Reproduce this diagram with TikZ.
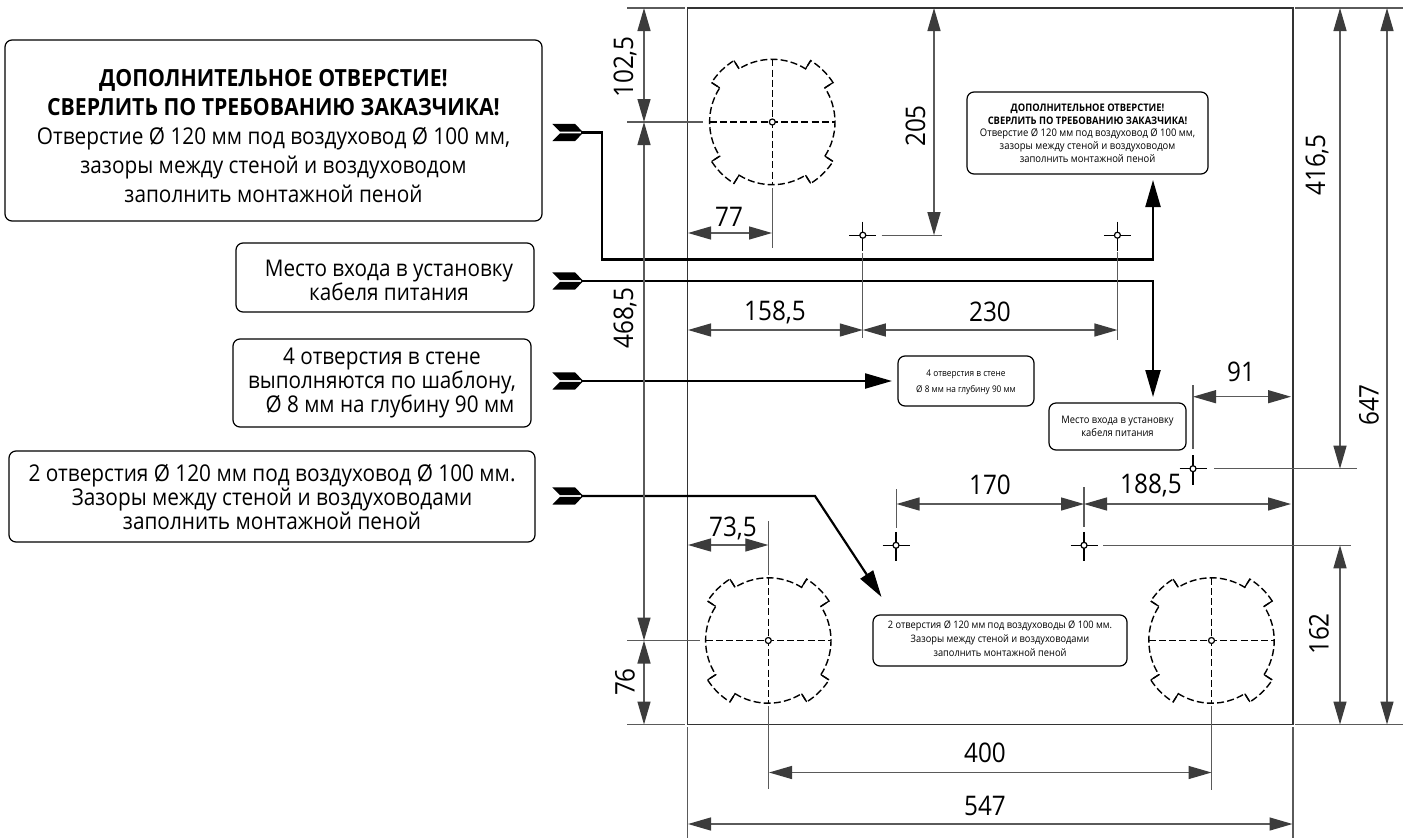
\documentclass[tikz,border=0pt]{standalone}
\usepackage{fontspec}
\setmainfont{Open Sans}[FakeStretch=0.9]
\usetikzlibrary{arrows.meta}
\definecolor{extgray}{HTML}{5A5A5A}
\definecolor{tipgray}{HTML}{3C3C3C}
\definecolor{platecol}{HTML}{333333}
\tikzset{
  x=1pt,y=-1pt,
  extline/.style={draw=extgray,line width=1.2pt},
  dimline/.style={draw=extgray,line width=1.3pt,{Triangle[length=23pt,width=13pt,color=tipgray]}-{Triangle[length=23pt,width=13pt,color=tipgray]}},
  dimtext/.style={font=\fontsize{27}{30}\selectfont,text=black,inner sep=0pt},
  callbox/.style={draw=black,line width=1.2pt,rounded corners=7pt,fill=white,align=center,inner sep=0pt},
  bigtext/.style={font=\fontsize{23.1}{29}\selectfont},
  smalltext/.style={font=\fontsize{10.5}{12.7}\selectfont},
  leader/.style={draw=black,line width=2.2pt,line join=miter,-{Triangle[length=27pt,width=15pt,color=black]}},
  feather/.style={fill=black,draw=none},
  holeline/.style={draw=black,line width=1.4pt,dash pattern=on 7pt off 3.2pt},
  holetick/.style={draw=black,line width=1.2pt},
  centermark/.style={draw=black,line width=1.2pt,fill=white},
}
\newcommand{\holeat}[2]{%
  \begin{scope}[shift={(#1,#2)}]
    \def\ra{62.7pt}\def\rb{72.4pt}
    \draw[holeline] (-33:\ra) arc[start angle=-33,end angle=33,radius=\ra] -- (33:\rb)
      arc[start angle=33,end angle=58,radius=\rb] -- (58:\ra)
      arc[start angle=58,end angle=122,radius=\ra] -- (122:\rb)
      arc[start angle=122,end angle=147,radius=\rb] -- (147:\ra)
      arc[start angle=147,end angle=213,radius=\ra] -- (213:\rb)
      arc[start angle=213,end angle=238,radius=\rb] -- (238:\ra)
      arc[start angle=238,end angle=302,radius=\ra] -- (302:\rb)
      arc[start angle=302,end angle=327,radius=\rb] -- cycle;
    \foreach \ang in {33,58,122,147,213,238,302,327}{\draw[holetick] (\ang:\ra) -- (\ang:\rb);}
    \draw[holeline] (-62.7,0) -- (62.7,0);
    \draw[holeline] (0,-62.7) -- (0,62.7);
    \draw[centermark] (0,0) circle[radius=3pt];
  \end{scope}}
\newcommand{\crossmark}[2]{%
  \draw[holetick] (#1-13.5,#2) -- (#1+13.5,#2);
  \draw[holetick] (#1,#2-13.5) -- (#1,#2+16);
  \draw[centermark] (#1,#2) circle[radius=3pt];}
\newcommand{\fletch}[1]{%
  \fill[feather] (552.3,#1-8.7) -- (575,#1-8.7) -- (582.5,#1-0.8) -- (560,#1-0.8) -- cycle;
  \fill[feather] (552.3,#1+8.7) -- (575,#1+8.7) -- (582.5,#1+0.8) -- (560,#1+0.8) -- cycle;}
\newcommand{\bigbold}[1]{{\fontsize{23.6}{29}\selectfont\textbf{#1}}}
\begin{document}
\begin{tikzpicture}
\useasboundingbox (0,0) rectangle (1408,838);
\fill[white] (0,0) rectangle (1408,838);

% plate
\draw[platecol,line width=1.5pt] (687.5,8) rectangle (1293,724.5);

% holes and template marks
\holeat{772.3}{122}
\holeat{768.3}{640.5}
\holeat{1211.5}{640.5}
\crossmark{862.8}{235.2}
\crossmark{1117.4}{235.2}
\crossmark{1193}{468.7}
\crossmark{1084}{545.3}
\crossmark{896}{545.3}

% call-out boxes, left
\node[callbox,bigtext,minimum width=537pt,minimum height=181pt] (boxA) at (273.5,130.5)
  {\rule{0pt}{28pt}\bigbold{ДОПОЛНИТЕЛЬНОЕ ОТВЕРСТИЕ!}\\\bigbold{СВЕРЛИТЬ ПО ТРЕБОВАНИЮ ЗАКАЗЧИКА!}\\Отверстие Ø 120 мм под воздуховод Ø 100 мм,\\зазоры между стеной и воздуховодом\\заполнить монтажной пеной};
\node[callbox,bigtext,font=\fontsize{23}{24.5}\selectfont,minimum width=298pt,minimum height=69pt] (boxB) at (385,277.5)
  {\rule{0pt}{22pt}\hspace*{8pt}Место входа в установку\\\hspace*{8pt}кабеля питания};
\node[callbox,bigtext,font=\fontsize{23}{24}\selectfont,minimum width=298pt,minimum height=88pt] (boxC) at (382,383)
  {4 отверстия в стене\\выполняются по шаблону,\hspace*{8pt}\\\hspace*{16pt}Ø 8 мм на глубину 90 мм};
\node[callbox,bigtext,font=\fontsize{23.1}{24}\selectfont,minimum width=526pt,minimum height=91pt] (boxD) at (272,496.5)
  {2 отверстия Ø 120 мм под воздуховод Ø 100 мм.\\Зазоры между стеной и воздуховодами\\заполнить монтажной пеной};

% call-out boxes, on the plate
\node[callbox,smalltext,minimum width=241pt,minimum height=82pt] (boxE) at (1087.5,133)
  {{\fontsize{10.4}{12.7}\selectfont\textbf{ДОПОЛНИТЕЛЬНОЕ ОТВЕРСТИЕ!}}\\{\fontsize{10.4}{12.7}\selectfont\textbf{СВЕРЛИТЬ ПО ТРЕБОВАНИЮ ЗАКАЗЧИКА!}}\\Отверстие Ø 120 мм под воздуховод Ø 100 мм,\\зазоры между стеной и воздуховодом\\заполнить монтажной пеной};
\node[callbox,smalltext,font=\fontsize{9.2}{16}\selectfont,minimum width=136pt,minimum height=50pt] (boxF) at (966,381)
  {\rule{0pt}{10pt}4 отверстия в стене\\Ø 8 мм на глубину 90 мм};
\node[callbox,smalltext,font=\fontsize{10.4}{13.5}\selectfont,minimum width=137pt,minimum height=47pt] (boxG) at (1117.5,426.5)
  {Место входа в установку\\кабеля питания};
\node[callbox,smalltext,font=\fontsize{10.3}{14}\selectfont,minimum width=254pt,minimum height=51pt] (boxH) at (1000,640.5)
  {2 отверстия Ø 120 мм под воздуховоды Ø 100 мм.\\Зазоры между стеной и воздуховодами\\заполнить монтажной пеной\rule[-4.5pt]{0pt}{1pt}};

% leaders
\coordinate (startA) at (581,132.5);
\coordinate (startB) at (581,281);
\coordinate (startC) at (581,381);
\coordinate (startD) at (581,496);
\coordinate (tipA) at (1153,180);
\coordinate (tipB) at (1153,397);
\coordinate (tipC) at (892,381);
\coordinate (tipD) at (881.5,597);
\draw[leader] (startA) -- (602,132.5) -- (602,259.5) -- (1153,259.5) -- (tipA);
\draw[leader] (startB) -- (1153,281) -- (tipB);
\draw[leader] (startC) -- (tipC);
\draw[leader] (startD) -- (815,496) -- (tipD);
\fletch{132.5}\fletch{281}\fletch{381}\fletch{496}

% extension lines
\draw[extline] (627,8) -- (685,8);
\draw[extline] (1295,8) -- (1403,8);
\draw[extline] (627,122) -- (703,122);
\draw[extline] (627,640.5) -- (700,640.5);
\draw[extline] (627,724.5) -- (685,724.5);
\draw[extline] (1295,724.5) -- (1403,724.5);
\draw[extline] (881.5,235.2) -- (942,235.2);
\draw[extline] (1214,468.7) -- (1357,468.7);
\draw[extline] (1103,545.3) -- (1351,545.3);
\draw[extline] (772.3,188) -- (772.3,248);
\draw[extline] (862.8,253) -- (862.8,338);
\draw[extline] (1117.4,252) -- (1117.4,340);
\draw[extline] (1193,385) -- (1193,449);
\draw[extline] (1084,487) -- (1084,527);
\draw[extline] (896.5,489) -- (896.5,528);
\draw[extline] (768.3,521) -- (768.3,575);
\draw[extline] (768.3,706) -- (768.3,789);
\draw[extline] (1211.5,706) -- (1211.5,790);
\draw[extline] (687.5,727) -- (687.5,838);
\draw[extline] (1293,727) -- (1293,838);

% vertical dimensions
\draw[dimline] (644,8) -- (644,122);
\draw[dimline] (644,122) -- (644,640.5);
\draw[dimline] (644,640.5) -- (644,724.5);
\draw[dimline] (934,8) -- (934,235.2);
\draw[dimline] (1340,8) -- (1340,468.7);
\draw[dimline] (1340,545.3) -- (1340,724.5);
\draw[dimline] (1387,8) -- (1387,724.5);
% horizontal dimensions
\draw[dimline] (688,233) -- (772,233);
\draw[dimline] (688,330) -- (862.8,330);
\draw[dimline] (862.8,330) -- (1117.4,330);
\draw[dimline] (1193,396.7) -- (1291,396.7);
\draw[dimline] (896.5,504) -- (1084,504);
\draw[dimline] (1084,504) -- (1291,504);
\draw[dimline] (688,545) -- (768.3,545);
\draw[dimline] (769,772.5) -- (1211.5,772.5);
\draw[dimline] (688,824) -- (1292.5,824);

% dimension texts
\node[dimtext,rotate=90] (t1025) at (625,67) {102,5};
\node[dimtext,rotate=90] (t4685) at (625,318) {468,5};
\node[dimtext,rotate=90] (t76) at (625,682) {76};
\node[dimtext,rotate=90] (t205) at (915.5,126) {205};
\node[dimtext,rotate=90] (t4165) at (1317,165) {416,5};
\node[dimtext,rotate=90] (t162) at (1319,634) {162};
\node[dimtext,rotate=90] (t647) at (1369,405) {647};
\node[dimtext] (t77) at (729,217) {77};
\node[dimtext] (t1585) at (775,312) {158,5};
\node[dimtext] (t230) at (990,312) {230};
\node[dimtext] (t91) at (1241,372) {91};
\node[dimtext] (t170) at (990,485) {170};
\node[dimtext] (t1885) at (1151,485) {188,5};
\node[dimtext] (t735) at (733,528) {73,5};
\node[dimtext] (t400) at (985,753) {400};
\node[dimtext] (t547) at (985,806) {547};
\end{tikzpicture}
\end{document}
